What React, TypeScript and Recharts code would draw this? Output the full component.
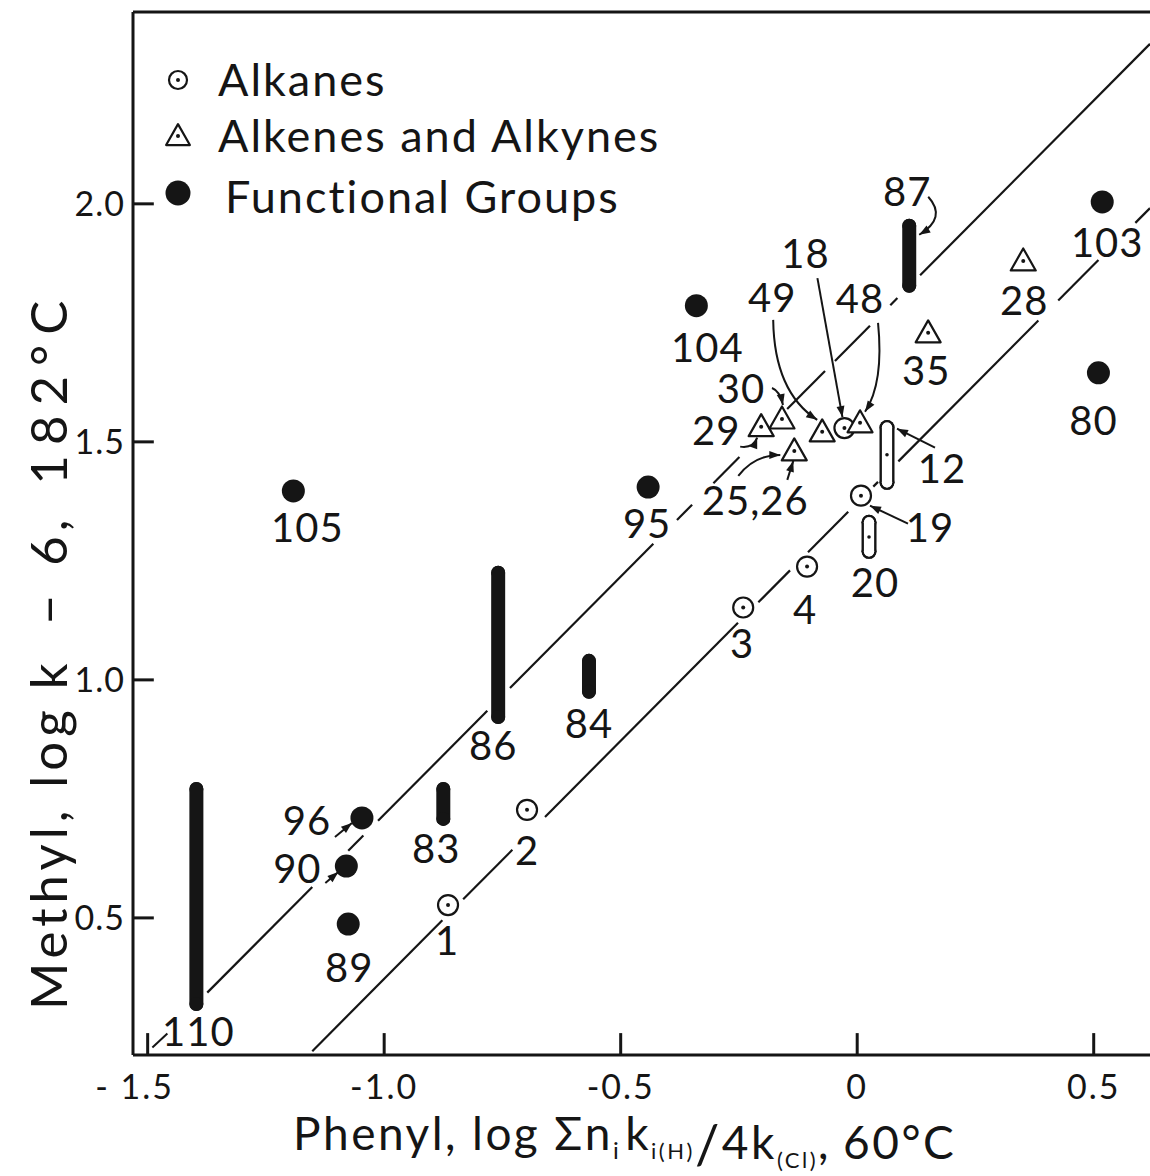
import React from 'react';
import { ScatterChart, Scatter, XAxis, YAxis, ReferenceLine, ErrorBar, Legend } from 'recharts';

const FONT = "Lato, 'Liberation Sans', 'DejaVu Sans', sans-serif";
const INK = '#151515';
const WEIGHT = 400;

// ---------- axes ----------
const X_DOMAIN: [number, number] = [-1.531, 0.619];
const Y_DOMAIN: [number, number] = [0.212, 2.403];
const X_TICKS = [-1.5, -1.0, -0.5, 0, 0.5];
const X_TICK_LABELS = ['- 1.5', '-1.0', '-0.5', '0', '0.5'];
const X_TICK_SHIFT = [-13, 0, 0, 0, 0];
const Y_TICKS = [0.5, 1.0, 1.5, 2.0];
const Y_TICK_LABELS = ['0.5', '1.0', '1.5', '2.0'];
const Y_TITLE_PARTS = ['Methyl,', 'log', 'k', '\u2212', '6,', '182\u00B0C'];
const LEGEND_LABELS = ['Alkanes', 'Alkenes and Alkynes', 'Functional Groups'];

// ---------- data ----------
const alkanes = [
  { id: '1', x: -0.865, y: 0.527 },
  { id: '2', x: -0.698, y: 0.727 },
  { id: '3', x: -0.241, y: 1.152 },
  { id: '4', x: -0.106, y: 1.238 },
  { id: '18', x: -0.027, y: 1.529 },
  { id: '19', x: 0.008, y: 1.387 },
];
const alkaneRanges = [
  { id: '12', x: 0.063, y: 1.473, low: 1.415, high: 1.530 },
  { id: '20', x: 0.025, y: 1.300, low: 1.270, high: 1.331 },
];
const alkenes = [
  { id: '29', x: -0.203, y: 1.532 },
  { id: '30', x: -0.159, y: 1.548 },
  { id: '25,26', x: -0.133, y: 1.481 },
  { id: '49', x: -0.074, y: 1.521 },
  { id: '48', x: 0.006, y: 1.540 },
  { id: '35', x: 0.150, y: 1.729 },
  { id: '28', x: 0.351, y: 1.880 },
];
const functional = [
  { id: '103', x: 0.518, y: 2.004 },
  { id: '80', x: 0.510, y: 1.645 },
  { id: '104', x: -0.340, y: 1.786 },
  { id: '95', x: -0.442, y: 1.405 },
  { id: '105', x: -1.192, y: 1.397 },
  { id: '96', x: -1.047, y: 0.710 },
  { id: '90', x: -1.080, y: 0.609 },
  { id: '89', x: -1.076, y: 0.487 },
];
const functionalRanges = [
  { id: '110', x: -1.397, low: 0.319, high: 0.771 },
  { id: '86', x: -0.759, low: 0.922, high: 1.225 },
  { id: '84', x: -0.567, low: 0.975, high: 1.040 },
  { id: '83', x: -0.875, low: 0.708, high: 0.771 },
  { id: '87', x: 0.110, low: 1.828, high: 1.954 },
];

// correlation lines (slope 1) and the stretches where they are drawn
const LINE_SLOPE = 1;
const UPPER_INTERCEPT = 1.717;
const LOWER_INTERCEPT = 1.372;
const upperLineSpans: [number, number][] = [
  [-1.374, -1.152], [-1.076, -1.044], [-1.013, -0.782], [-0.734, -0.431], [-0.381, -0.349],
  [-0.304, -0.249], [-0.148, -0.068], [-0.047, 0.027], [0.070, 0.085], [0.133, 0.619],
];
const lowerLineSpans: [number, number][] = [
  [-1.152, -0.877], [-0.833, -0.729], [-0.660, -0.252], [-0.209, -0.142], [-0.104, -0.019],
  [0.034, 0.044], [0.087, 0.383], [0.425, 0.510], [0.588, 0.619],
];

// ---------- tables built from the arrays ----------
const alkaneRangeTable = alkaneRanges.map((d) => ({ ...d, err: [d.y - d.low, d.high - d.y] }));
const functionalRangeTable = functionalRanges.map((d) => {
  const y = (d.low + d.high) / 2;
  return { ...d, y, err: [y - d.low, d.high - y] };
});

// ---------- annotation placement (pixel offsets from the mark) ----------
type Arrow = { from: [number, number]; to: [number, number]; ctrl?: [number, number]; head?: boolean };
type Note = { dx: number; dy: number; arrows?: Arrow[] };
const NOTES: Record<string, Note> = {
  '1': { dx: -1, dy: 50 },
  '2': { dx: 0, dy: 55 },
  '3': { dx: -1, dy: 50 },
  '4': { dx: -2, dy: 57 },
  '18': { dx: -39, dy: -160, arrows: [{ from: [-27, -150], to: [-2, -11], head: true }] },
  '19': { dx: 69, dy: 46, arrows: [{ from: [47, 28], to: [9, 10], head: true }] },
  '12': { dx: 55, dy: 28, arrows: [{ from: [48, -7], to: [10, -26], head: true }] },
  '20': { dx: 6, dy: 60 },
  '29': { dx: -45, dy: 18, arrows: [{ from: [-21, 20], ctrl: [-8, 22], to: [-4, 11], head: true }] },
  '30': { dx: -41, dy: -16, arrows: [{ from: [-10, -31], ctrl: [-2, -28], to: [1, -14], head: true }] },
  '25,26': {
    dx: -39, dy: 64,
    arrows: [
      { from: [-56, 25], ctrl: [-40, 4], to: [-14, 4], head: true },
      { from: [-7, 29], to: [-1, 10], head: true },
    ],
  },
  '49': { dx: -50, dy: -120, arrows: [{ from: [-49, -112], ctrl: [-48, -40], to: [-5, -12], head: true }] },
  '48': { dx: 0, dy: -110, arrows: [{ from: [18, -100], ctrl: [24, -40], to: [5, -11], head: true }] },
  '35': { dx: -2, dy: 52 },
  '28': { dx: 1, dy: 54 },
  '87': { dx: -2, dy: -50, arrows: [{ from: [19, -59], ctrl: [38, -38], to: [10, -21], head: true }] },
  '103': { dx: 5, dy: 55 },
  '80': { dx: -5, dy: 62 },
  '104': { dx: 11, dy: 56 },
  '95': { dx: -1, dy: 51 },
  '105': { dx: 14, dy: 51 },
  '86': { dx: -5, dy: 115 },
  '84': { dx: 0, dy: 62 },
  '83': { dx: -7, dy: 59 },
  '110': { dx: 2, dy: 150, arrows: [{ from: [-44, 151], to: [-29, 137] }] },
  '96': { dx: -55, dy: 17, arrows: [{ from: [-27, 19], to: [-10, 5], head: true }] },
  '90': { dx: -49, dy: 17, arrows: [{ from: [-21, 17], to: [-8, 6], head: true }] },
  '89': { dx: 1, dy: 58 },
};

function ArrowMark({ cx, cy, a }: { cx: number; cy: number; a: Arrow }) {
  const sx = cx + a.from[0];
  const sy = cy + a.from[1];
  const ex = cx + a.to[0];
  const ey = cy + a.to[1];
  const c = a.ctrl ? [cx + a.ctrl[0], cy + a.ctrl[1]] : null;
  const d = c ? `M${sx},${sy} Q${c[0]},${c[1]} ${ex},${ey}` : `M${sx},${sy} L${ex},${ey}`;
  const px = c ? c[0] : sx;
  const py = c ? c[1] : sy;
  const ang = Math.atan2(ey - py, ex - px);
  const L = 11;
  const W = 4;
  const bx = ex - L * Math.cos(ang);
  const by = ey - L * Math.sin(ang);
  const head = `${ex},${ey} ${bx + W * Math.sin(ang)},${by - W * Math.cos(ang)} ${bx - W * Math.sin(ang)},${by + W * Math.cos(ang)}`;
  return (
    <g>
      <path d={d} fill="none" stroke={INK} strokeWidth={2} />
      {a.head ? <polygon points={head} fill={INK} /> : null}
    </g>
  );
}

function NoteMark({ id, cx, cy }: { id: string; cx: number; cy: number }) {
  const n = NOTES[id];
  if (!n) return null;
  return (
    <g>
      <text
        x={cx + n.dx}
        y={cy + n.dy}
        textAnchor="middle"
        fontSize={40}
        fontFamily={FONT}
        fontWeight={WEIGHT}
        fill={INK}
        letterSpacing={1}
      >
        {id}
      </text>
      {(n.arrows || []).map((a, i) => (
        <ArrowMark key={i} cx={cx} cy={cy} a={a} />
      ))}
    </g>
  );
}

const alkaneShape = (p: any) => (
  <g>
    <circle cx={p.cx} cy={p.cy} r={10} fill="#fff" stroke={INK} strokeWidth={2.2} />
    <circle cx={p.cx} cy={p.cy} r={2} fill={INK} />
    <NoteMark id={p.payload.id} cx={p.cx} cy={p.cy} />
  </g>
);
const rangeDotShape = (p: any) => (
  <g>
    <circle cx={p.cx} cy={p.cy} r={1.8} fill={INK} />
    <NoteMark id={p.payload.id} cx={p.cx} cy={p.cy} />
  </g>
);
const triPath = (cx: number, cy: number, s: number) =>
  `M${cx},${cy - 12.5 * s} L${cx + 12.5 * s},${cy + 9.5 * s} L${cx - 12.5 * s},${cy + 9.5 * s} Z`;
const alkeneShape = (p: any) => (
  <g>
    <path d={triPath(p.cx, p.cy, 1)} fill="#fff" stroke={INK} strokeWidth={2.2} strokeLinejoin="round" />
    <circle cx={p.cx} cy={p.cy} r={2} fill={INK} />
    <NoteMark id={p.payload.id} cx={p.cx} cy={p.cy} />
  </g>
);
const functionalShape = (p: any) => (
  <g>
    <circle cx={p.cx} cy={p.cy} r={11.5} fill={INK} />
    <NoteMark id={p.payload.id} cx={p.cx} cy={p.cy} />
  </g>
);
const labelOnlyShape = (p: any) => <NoteMark id={p.payload.id} cx={p.cx} cy={p.cy} />;

// ---------- ticks ----------
const XTick = (p: any) => {
  const i = X_TICKS.indexOf(p.payload.value);
  return (
    <text
      x={p.x + (X_TICK_SHIFT[i] || 0)}
      y={p.y + 42}
      textAnchor="middle"
      fontSize={34}
      fontFamily={FONT}
      fontWeight={WEIGHT}
      fill={INK}
      letterSpacing={2}
    >
      {X_TICK_LABELS[i] ?? String(p.payload.value)}
    </text>
  );
};

// ---------- axis titles ----------
const XTitle = (props: any) => {
  const vb = props.viewBox || { x: 133, y: 1055 };
  const x = vb.x + 160;
  const y = vb.y + 95;
  return (
    <text x={x} y={y} fontFamily={FONT} fontSize={46} fontWeight={WEIGHT} fill={INK} letterSpacing={2.5}>
      <tspan>Phenyl,</tspan>
      <tspan dx={14}>log</tspan>
      <tspan dx={14}>{'\u03A3n'}</tspan>
      <tspan fontSize={24} dy={9}>i</tspan>
      <tspan dy={-9} dx={4}>k</tspan>
      <tspan fontSize={22} dy={9}>i(H)</tspan>
      <tspan fontSize={54} dy={5}>/</tspan>
      <tspan dy={-5}>4k</tspan>
      <tspan fontSize={22} dy={9}>(Cl)</tspan>
      <tspan dy={-9}>,</tspan>
      <tspan dx={12}>{'60\u00B0C'}</tspan>
    </text>
  );
};

// gaps (px) before each part of the y title, and letter spacing per part
const Y_TITLE_GAPS = [0, 18, 16, 34, 24, 30];
const Y_TITLE_SPACING = [5, 5, 5, 5, 5, 10];

const YTitle = (props: any) => {
  const vb = props.viewBox || { x: 73, y: 12, height: 1043 };
  const bx = vb.x - 6;
  const by = vb.y + vb.height - 45;
  return (
    <text
      transform={`translate(${bx},${by}) rotate(-90)`}
      x={0}
      y={0}
      fontFamily={FONT}
      fontSize={51}
      fontWeight={WEIGHT}
      fill={INK}
    >
      {Y_TITLE_PARTS.map((s, i) => (
        <tspan key={i} dx={Y_TITLE_GAPS[i]} letterSpacing={Y_TITLE_SPACING[i]}>
          {s}
        </tspan>
      ))}
    </text>
  );
};

// ---------- legend ----------
const LegendBox = () => (
  <svg width={540} height={190} style={{ display: 'block', overflow: 'visible' }}>
    <circle cx={28} cy={30} r={9} fill="#fff" stroke={INK} strokeWidth={2.2} />
    <circle cx={28} cy={30} r={2} fill={INK} />
    <path d={triPath(28, 86, 0.95)} fill="#fff" stroke={INK} strokeWidth={2.2} strokeLinejoin="round" />
    <circle cx={28} cy={86} r={2} fill={INK} />
    <circle cx={28} cy={143} r={12.5} fill={INK} />
    <text x={68} y={46} fontFamily={FONT} fontSize={45} fontWeight={WEIGHT} fill={INK} letterSpacing={2}>
      {LEGEND_LABELS[0]}
    </text>
    <text x={68} y={102} fontFamily={FONT} fontSize={45} fontWeight={WEIGHT} fill={INK} letterSpacing={2}>
      {LEGEND_LABELS[1]}
    </text>
    <text x={75} y={163} fontFamily={FONT} fontSize={45} fontWeight={WEIGHT} fill={INK} letterSpacing={2}>
      {LEGEND_LABELS[2]}
    </text>
  </svg>
);

const TICK_LEN_Y = 0.046;
const TICK_LEN_X = 0.044;

export default function App() {
  return (
    <div style={{ position: 'absolute', left: 0, top: 0, width: 1150, height: 1176, background: '#fff' }}>
      <ScatterChart width={1150} height={1176} margin={{ top: 12, right: 0, bottom: 61, left: 73 }}>
        <XAxis
          type="number"
          dataKey="x"
          domain={X_DOMAIN}
          allowDataOverflow
          ticks={X_TICKS}
          tickLine={false}
          tickSize={0}
          height={60}
          axisLine={{ stroke: INK, strokeWidth: 3 }}
          tick={XTick}
          label={XTitle}
        />
        <YAxis
          type="number"
          dataKey="y"
          domain={Y_DOMAIN}
          allowDataOverflow
          ticks={Y_TICKS}
          tickFormatter={(v: number) => Y_TICK_LABELS[Y_TICKS.indexOf(v)] ?? String(v)}
          tickLine={false}
          tickSize={0}
          tickMargin={8}
          width={60}
          axisLine={{ stroke: INK, strokeWidth: 3 }}
          tick={{ fontSize: 34, fill: INK, fontFamily: FONT, fontWeight: WEIGHT, letterSpacing: 1 }}
          label={YTitle}
        />
        <ReferenceLine y={Y_DOMAIN[1]} stroke={INK} strokeWidth={3} ifOverflow="visible" />
        {X_TICKS.map((v) => (
          <ReferenceLine
            key={'xt' + v}
            segment={[{ x: v, y: Y_DOMAIN[0] }, { x: v, y: Y_DOMAIN[0] + TICK_LEN_Y }]}
            stroke={INK}
            strokeWidth={3}
            ifOverflow="visible"
          />
        ))}
        {Y_TICKS.map((v) => (
          <ReferenceLine
            key={'yt' + v}
            segment={[{ x: X_DOMAIN[0], y: v }, { x: X_DOMAIN[0] + TICK_LEN_X, y: v }]}
            stroke={INK}
            strokeWidth={3}
            ifOverflow="visible"
          />
        ))}
        {upperLineSpans.map(([a, b], i) => (
          <ReferenceLine
            key={'u' + i}
            segment={[
              { x: a, y: LINE_SLOPE * a + UPPER_INTERCEPT },
              { x: b, y: LINE_SLOPE * b + UPPER_INTERCEPT },
            ]}
            stroke={INK}
            strokeWidth={2.2}
            ifOverflow="visible"
          />
        ))}
        {lowerLineSpans.map(([a, b], i) => (
          <ReferenceLine
            key={'l' + i}
            segment={[
              { x: a, y: LINE_SLOPE * a + LOWER_INTERCEPT },
              { x: b, y: LINE_SLOPE * b + LOWER_INTERCEPT },
            ]}
            stroke={INK}
            strokeWidth={2.2}
            ifOverflow="visible"
          />
        ))}
        <Scatter name="Functional Groups (range)" data={functionalRangeTable} shape={labelOnlyShape} isAnimationActive={false}>
          <ErrorBar dataKey="err" direction="y" width={0} stroke={INK} strokeWidth={14} strokeLinecap="round" isAnimationActive={false} />
        </Scatter>
        <Scatter name="Alkanes (range)" data={alkaneRangeTable} shape={rangeDotShape} isAnimationActive={false}>
          <ErrorBar dataKey="err" direction="y" width={0} stroke={INK} strokeWidth={15} strokeLinecap="round" isAnimationActive={false} />
          <ErrorBar dataKey="err" direction="y" width={0} stroke="#fff" strokeWidth={10.2} strokeLinecap="round" isAnimationActive={false} />
        </Scatter>
        <Scatter name="Alkanes" data={alkanes} shape={alkaneShape} isAnimationActive={false} />
        <Scatter name="Alkenes and Alkynes" data={alkenes} shape={alkeneShape} isAnimationActive={false} />
        <Scatter name="Functional Groups" data={functional} shape={functionalShape} isAnimationActive={false} />
        <Legend
          content={<LegendBox />}
          layout="horizontal"
          verticalAlign="middle"
          align="center"
          wrapperStyle={{ left: 150, top: 50, width: 540, height: 190 }}
        />
      </ScatterChart>
    </div>
  );
}
